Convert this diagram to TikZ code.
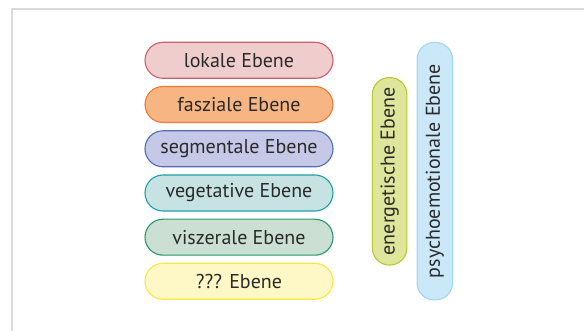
\documentclass[tikz,border=0pt]{standalone}
\usepackage{fontspec}
\setmainfont{PT Sans}
\definecolor{frameg}{HTML}{DADADA}
\definecolor{txt}{HTML}{2A2A2A}
\definecolor{lokF}{HTML}{EFCDCC}\definecolor{lokD}{HTML}{CC5F6E}
\definecolor{fasF}{HTML}{F7B584}\definecolor{fasD}{HTML}{EE7B37}
\definecolor{segF}{HTML}{C5C8E6}\definecolor{segD}{HTML}{4F6DB0}
\definecolor{vegF}{HTML}{C6E2E3}\definecolor{vegD}{HTML}{1CA1A9}
\definecolor{visF}{HTML}{CBDFD2}\definecolor{visD}{HTML}{24996B}
\definecolor{qqqF}{HTML}{FEF8C6}\definecolor{qqqD}{HTML}{F8E843}
\definecolor{eneF}{HTML}{DFE69B}\definecolor{eneD}{HTML}{B6CA2C}
\definecolor{psyF}{HTML}{CBE8F8}\definecolor{psyD}{HTML}{A3D6F1}
\begin{document}
\begin{tikzpicture}[x=1pt,y=-1pt,
  pill/.style={draw, line width=1.1pt, rounded corners=18pt, minimum width=188pt,
    minimum height=36pt, inner sep=0pt, text=txt, font=\fontsize{20}{24}\selectfont},
  vpill/.style={draw, line width=1.1pt, rounded corners=17pt, minimum width=34.5pt,
    inner sep=0pt, text=txt},
  vtext/.style={rotate=90, text=txt, font=\fontsize{20}{24}\selectfont, inner sep=0pt}]
\useasboundingbox (0,0) rectangle (584,331);
\draw[frameg, line width=2pt] (11.5,331) -- (11.5,8.7) -- (584,8.7);
\node[pill, fill=lokF, draw=lokD] (lok) at (239,60.3) {lokale Ebene};
\node[pill, fill=fasF, draw=fasD] (fas) at (239,104.5) {fasziale Ebene};
\node[pill, fill=segF, draw=segD] (seg) at (239,148.8) {segmentale Ebene};
\node[pill, fill=vegF, draw=vegD] (veg) at (239,193) {vegetative Ebene};
\node[pill, fill=visF, draw=visD] (vis) at (239,237.2) {viszerale Ebene};
\node[pill, fill=qqqF, draw=qqqD] (qqq) at (239,281.3) {??? Ebene};
\node[vpill, fill=eneF, draw=eneD, minimum height=187.5pt] (ene) at (389.6,171.3) {};
\node[vtext] (enet) at (ene.center) {energetische Ebene};
\node[vpill, fill=psyF, draw=psyD, minimum width=35.5pt, minimum height=257.5pt] (psy) at (434.8,171.2) {};
\node[vtext] (psyt) at (psy.center) {psychoemotionale Ebene};
\end{tikzpicture}
\end{document}
